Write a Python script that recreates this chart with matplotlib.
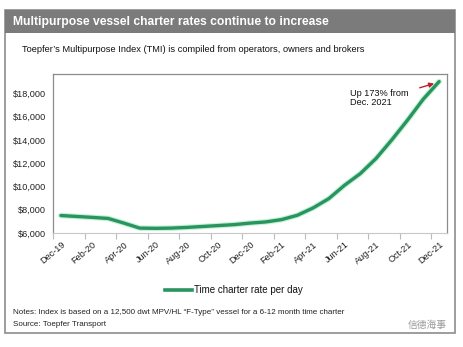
import matplotlib
matplotlib.use("Agg")
import matplotlib.pyplot as plt
from matplotlib.patches import Rectangle
from matplotlib.lines import Line2D
from matplotlib.ticker import FuncFormatter

# monthly time charter rate, Dec-19 .. Dec-21
months = ["Dec-19", "Jan-20", "Feb-20", "Mar-20", "Apr-20", "May-20", "Jun-20",
          "Jul-20", "Aug-20", "Sep-20", "Oct-20", "Nov-20", "Dec-20", "Jan-21",
          "Feb-21", "Mar-21", "Apr-21", "May-21", "Jun-21", "Jul-21", "Aug-21",
          "Sep-21", "Oct-21", "Nov-21", "Dec-21"]
rates = [7500, 7420, 7340, 7250, 6850, 6420, 6400, 6420, 6480, 6560, 6640, 6720,
         6850, 6950, 7150, 7520, 8150, 8950, 10100, 11100, 12400, 14000, 15700,
         17500, 19000]
y_ticks = [6000, 8000, 10000, 12000, 14000, 16000, 18000]

W, H = 464, 347
GREEN = "#2a9460"
plt.rcParams["font.family"] = ["Liberation Sans", "DejaVu Sans"]

fig = plt.figure(figsize=(W / 100, H / 100), dpi=100)
fig.patch.set_facecolor("white")

def fx(px):
    return px / W

def fy(py):
    return 1 - py / H

# outer frame and header bar
fig.patches.append(Rectangle((fx(5), fy(333)), fx(450), (333 - 10) / H,
                             transform=fig.transFigure, fill=False,
                             edgecolor="#8c8c8c", lw=1.2))
fig.patches.append(Rectangle((fx(5), fy(33)), fx(450), 23 / H,
                             transform=fig.transFigure, facecolor="#7b7b7b",
                             edgecolor="none"))
fig.text(fx(13), fy(21.5), "Multipurpose vessel charter rates continue to increase",
         color="white", fontsize=8.7, fontweight="bold", va="center")
fig.text(fx(22), fy(49), "Toepfer\u2019s Multipurpose Index (TMI) is compiled from operators, owners and brokers",
         fontsize=6.7, va="center", color="#111111")

ax = fig.add_axes([fx(53), fy(233), fx(447 - 53), (233 - 74) / H])
x = list(range(len(months)))
ax.plot(x, rates, color="#9be8b8", lw=4.0, alpha=0.6, solid_capstyle="round")
ax.plot(x, rates, color=GREEN, lw=2.4, solid_capstyle="round")

ax.set_xlim(-0.5, len(months) - 0.5)
ax.set_ylim(6000, 19650)
ax.set_yticks(y_ticks)
ax.yaxis.set_major_formatter(FuncFormatter(lambda v, p: f"${v:,.0f}"))
ax.tick_params(axis="y", length=0, labelsize=6.6, pad=5, colors="#222222")

ax.set_xticks(x[::2])
ax.set_xticklabels(months[::2], rotation=40, ha="right", rotation_mode="anchor")
ax.set_xticks([i - 0.5 for i in range(0, len(months) + 1, 2)], minor=True)
ax.tick_params(axis="x", which="major", length=0, labelsize=6.6, pad=5, colors="#222222")
ax.tick_params(axis="x", which="minor", length=4, color="#bbbbbb", width=0.8)

for s in ["top", "right", "left"]:
    ax.spines[s].set_color("#8c8c8c")
    ax.spines[s].set_linewidth(0.9)
ax.spines["bottom"].set_color("#c8c8c8")

ax.annotate("", xy=(23.85, 18900), xytext=(22.6, 18400),
            arrowprops=dict(arrowstyle="-|>", color="#c0202a", lw=1.0,
                            mutation_scale=7))
ax.text(18.35, 17550, "Up 173% from\nDec. 2021", fontsize=6.6, va="center",
        ha="left", linespacing=1.0, color="#111111")

# legend
fig.lines.append(Line2D([fx(165), fx(192)], [fy(290), fy(290)],
                        transform=fig.transFigure, color=GREEN, lw=2.6))
fig.text(fx(194), fy(290), "Time charter rate per day", fontsize=7.0,
         va="center", color="#111111")

fig.text(fx(13), fy(313), "Notes: Index is based on a 12,500 dwt MPV/HL \u201cF-Type\u201d vessel for a 6-12 month time charter",
         fontsize=5.75, va="center", color="#222222")
fig.text(fx(13), fy(325), "Source: Toepfer Transport", fontsize=5.75,
         va="center", color="#222222")
fig.text(fx(447), fy(325), "信德海事", fontsize=7, va="center", ha="right",
         color="#9a9a9a", family=["Noto Sans CJK SC", "DejaVu Sans"])

fig.savefig("out.png", dpi=100)
